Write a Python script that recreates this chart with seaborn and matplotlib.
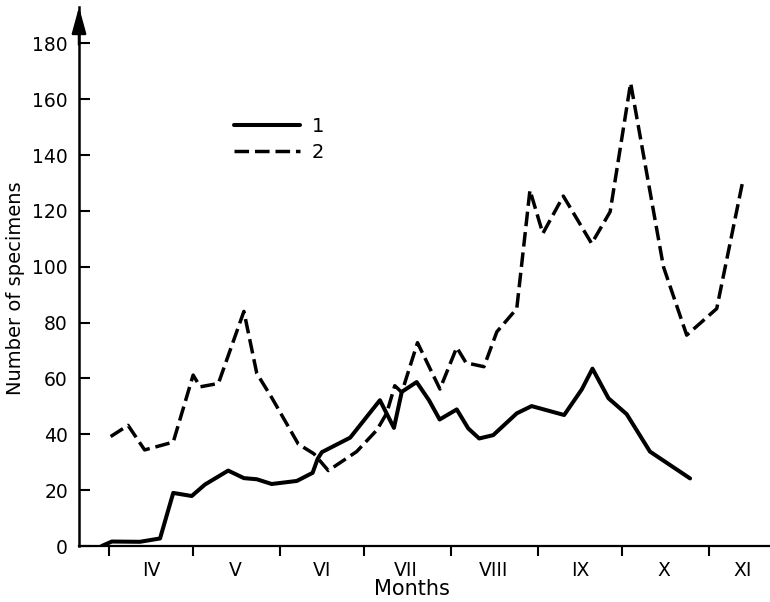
import numpy as np
import pandas as pd
import matplotlib
matplotlib.use("Agg")
import matplotlib.pyplot as plt
import seaborn as sns

# Days counted from 1 April
day_1 = [-2.6, 1.0, 11, 18.2, 22.9, 29.5, 34.2, 42.5, 48.1, 52.7, 58, 67, 72.6,
         74.4, 75.9, 86, 96.6, 101.6, 104.4, 109.7, 114.1, 117.9, 124, 128.1,
         132, 137, 145.4, 150.7, 162.3, 168.6, 172.4, 178.1, 184.6, 192.9, 207.2]
count_1 = [0, 1.6, 1.5, 2.7, 19, 17.9, 22, 27, 24.3, 23.9, 22.2, 23.3, 26.2,
           31.2, 33.6, 38.8, 52.2, 42.3, 55.2, 58.7, 52.2, 45.3, 48.9, 42.1,
           38.5, 39.7, 47.5, 50.1, 46.9, 56.1, 63.5, 52.9, 47.2, 33.8, 24.2]

day_2 = [0.6, 6.8, 12.7, 22.9, 30, 32.5, 39, 48.1, 52.7, 58.1, 67.5, 73.1,
         78.2, 88.3, 95.5, 99, 101.9, 104.4, 110, 118, 124, 127.3, 133.7,
         138.3, 145.4, 150.1, 154.7, 162, 172.1, 178.7, 186, 197.7, 206,
         216.7, 226]
count_2 = [39.2, 43.2, 34.4, 37.2, 61.2, 57, 58.2, 84, 61.8, 53, 36.5, 33,
           27, 33.8, 41.5, 47.5, 57.4, 55, 72.8, 56.2, 71.1, 65.6, 64.2,
           76.7, 85, 127.4, 111.9, 125.3, 108.3, 119.7, 165.8, 100, 75.5,
           85, 130.7]

month_starts = [0, 30, 61, 91, 122, 153, 183, 214]
month_label_pos = [15, 45, 76, 106, 137, 168, 198, 226]
month_labels = ["IV", "V", "VI", "VII", "VIII", "IX", "X", "XI"]
y_ticks = list(range(0, 181, 20))

sns.set_style("ticks")
plt.rcParams["font.family"] = ["DejaVu Sans"]
plt.rcParams["text.color"] = "black"
plt.rcParams["axes.labelcolor"] = "black"
plt.rcParams["xtick.color"] = "black"
plt.rcParams["ytick.color"] = "black"

fig = plt.figure(figsize=(7.70, 6.02), dpi=100)
ax = fig.add_axes([79 / 770, 56 / 602, 691 / 770, 539 / 602])

sns.lineplot(x=day_1, y=count_1, color="black", linewidth=2.9,
             estimator=None, sort=False, label="1", ax=ax)
sns.lineplot(x=day_2, y=count_2, color="black", linewidth=2.5,
             linestyle=(0, (4.2, 1.7)), estimator=None, sort=False,
             label="2", ax=ax)

ax.set_xlim(-10.7, 235.7)
ax.set_ylim(0, 193)

# spines: only the left and bottom axes
for side in ("top", "right"):
    ax.spines[side].set_visible(False)
ax.spines["left"].set_linewidth(1.8)
ax.spines["bottom"].set_linewidth(1.6)
ax.spines["left"].set_color("black")
ax.spines["bottom"].set_color("black")

# arrow head on top of the y axis
ax.annotate("", xy=(0, 1.0), xytext=(0, 0.93), xycoords="axes fraction",
            arrowprops=dict(arrowstyle="-|>,head_length=0.8,head_width=0.22",
                            color="black", lw=1.8, mutation_scale=20,
                            shrinkA=0, shrinkB=0),
            annotation_clip=False)

# y ticks point inward
ax.set_yticks(y_ticks)
ax.tick_params(axis="y", direction="in", length=8, width=1.5, pad=8,
               labelsize=13.5, colors="black")

# month boundaries as tick marks, month names between them
ax.set_xticks(month_starts)
ax.set_xticklabels([])
ax.set_xticks(month_label_pos, minor=True)
ax.set_xticklabels(month_labels, minor=True)
ax.tick_params(axis="x", which="major", direction="out", length=7,
               width=1.5, colors="black")
ax.tick_params(axis="x", which="minor", length=0, pad=11, labelsize=13.5,
               colors="black")

ax.set_xlabel("Months", fontsize=15)
ax.xaxis.set_label_coords(0.482, -0.062)
ax.set_ylabel("Number of specimens", fontsize=14)
ax.yaxis.set_label_coords(-0.078, 0.479)

leg = ax.legend(loc="upper left", bbox_to_anchor=(0.224, 0.796),
                frameon=False, fontsize=14, handlelength=3.4,
                handletextpad=0.6, labelspacing=0.35, borderpad=0,
                borderaxespad=0)

fig.savefig("out.png", dpi=100, facecolor="white")
